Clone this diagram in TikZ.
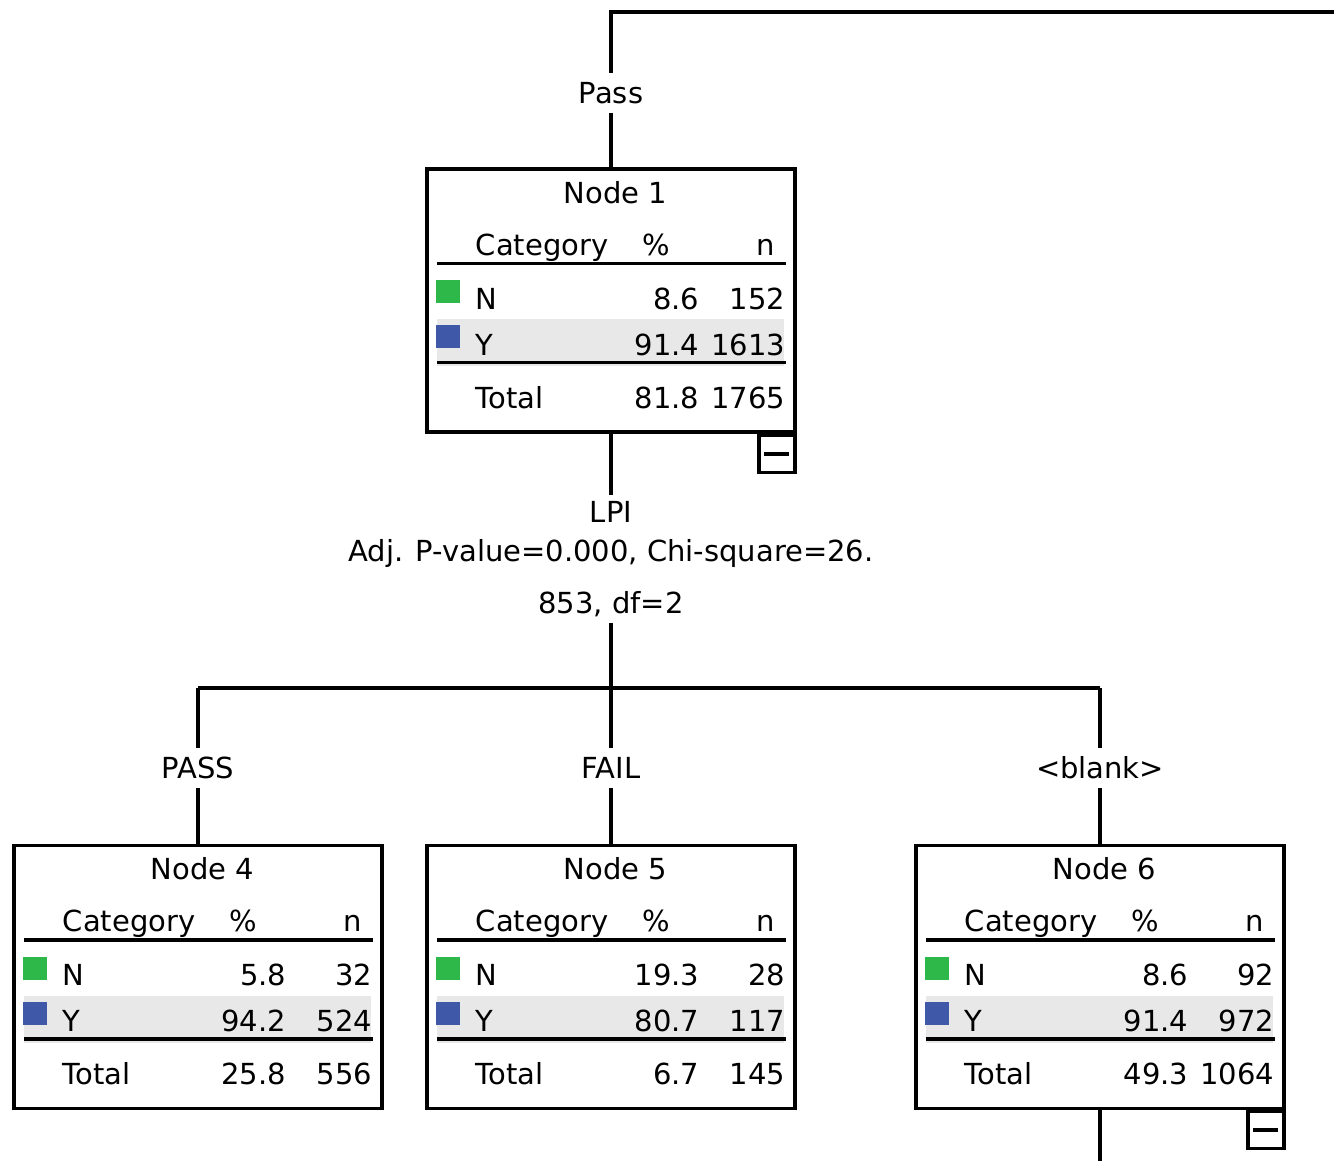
\documentclass[tikz,border=0pt]{standalone}
\usepackage{fontspec}
\setmainfont{DejaVu Sans}
\usetikzlibrary{positioning}
\definecolor{catgreen}{HTML}{2EB84A}
\definecolor{catblue}{HTML}{3F58A8}
\definecolor{rowgray}{HTML}{E8E8E8}

\tikzset{
  treebox/.style={draw, line width=1.8pt, fill=white, minimum width=7.36cm, minimum height=5.26cm, inner sep=0pt},
  minusbox/.style={draw, line width=1.8pt, minimum width=0.72cm, minimum height=0.74cm, inner sep=0pt, anchor=north east},
  branchlab/.style={fill=white, inner sep=5pt},
  conn/.style={line width=1.8pt},
  cell/.style={anchor=base, inner sep=0pt},
}

% category table inside a tree node: name, number, N %, N n, Y %, Y n, total %, total n
\newcommand{\cattable}[8]{%
  \begin{scope}[shift={(#1.north west)}]
    \fill[rowgray] (12,152) rectangle (359,199);
    \node[cell] at (190,36) {Node #2};
    \node[cell, anchor=base west] at (50,88) {Category};
    \node[cell] at (231,88) {\%};
    \node[cell, anchor=base east] at (350,88) {n};
    \draw[conn] (12,96) -- (361,96);
    \fill[catgreen] (11,113) rectangle (35,136);
    \node[cell, anchor=base west] at (50,142) {N};
    \node[cell, anchor=base east] at (274,142) {#3};
    \node[cell, anchor=base east] at (360,142) {#4};
    \fill[catblue] (11,158) rectangle (35,181);
    \node[cell, anchor=base west] at (50,188) {Y};
    \node[cell, anchor=base east] at (274,188) {#5};
    \node[cell, anchor=base east] at (360,188) {#6};
    \draw[conn] (12,195) -- (361,195);
    \node[cell, anchor=base west] at (50,241) {Total};
    \node[cell, anchor=base east] at (274,241) {#7};
    \node[cell, anchor=base east] at (360,241) {#8};
  \end{scope}}

\begin{document}
\begin{tikzpicture}[x=0.02cm, y=-0.02cm, font=\fontsize{16.5}{20}\selectfont]
  \useasboundingbox (0,0) rectangle (1334,1161);

  % boxes
  \node[treebox] (n1) at (611,300.5) {};
  \node[treebox] (n4) at (198,977) {};
  \node[treebox] (n5) at (611,977) {};
  \node[treebox] (n6) at (1100,977) {};
  \cattable{n1}{1}{8.6}{152}{91.4}{1613}{81.8}{1765}
  \cattable{n4}{4}{5.8}{32}{94.2}{524}{25.8}{556}
  \cattable{n5}{5}{19.3}{28}{80.7}{117}{6.7}{145}
  \cattable{n6}{6}{8.6}{92}{91.4}{972}{49.3}{1064}

  % collapse buttons
  \node[minusbox] (m1) at (n1.south east) {\rule{0.5cm}{2.4pt}};
  \node[minusbox] (m6) at (n6.south east) {\rule{0.5cm}{2.4pt}};

  % parent branch
  \coordinate (top) at (611,12);
  \coordinate (topend) at (1334,12);
  \node[branchlab] (lab-pass) at (611,93) {Pass};
  \draw[conn] (topend) -- (top) -- (lab-pass) -- (n1);

  % split of node 1
  \node (split-var) at (611,512) {LPI};
  \node (split-adj) at (611,553) {Adj. P-value=0.000, Chi-square=26.};
  \node (split-df) at (611,604) {853, df=2};
  \coordinate (junc) at (611,688);
  \coordinate (j4) at (198,688);
  \coordinate (j6) at (1100,688);
  \draw[conn] (n1) -- (split-var);
  \draw[conn] (split-df) -- (junc);
  \draw[conn] (j4) -- (j6);

  % child branches
  \node[branchlab] (lab-p4) at (198,768) {PASS};
  \node[branchlab] (lab-f5) at (611,768) {FAIL};
  \node[branchlab] (lab-b6) at (1100,768) {<blank>};
  \draw[conn] (j4) -- (lab-p4) -- (n4);
  \draw[conn] (junc) -- (lab-f5) -- (n5);
  \draw[conn] (j6) -- (lab-b6) -- (n6);

  \coordinate (down6) at (1100,1161);
  \draw[conn] (n6) -- (down6);
\end{tikzpicture}
\end{document}
